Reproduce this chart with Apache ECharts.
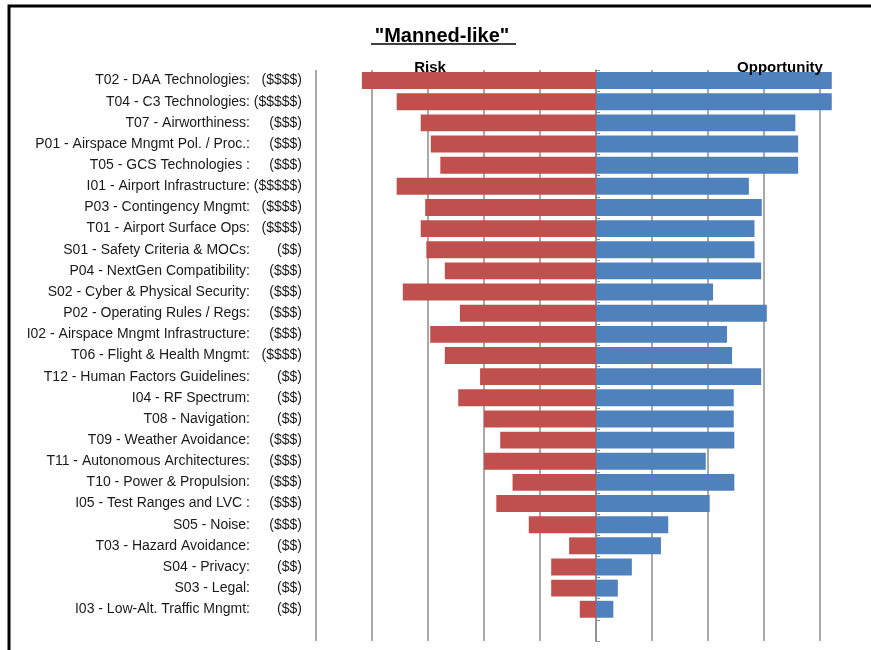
<!DOCTYPE html>
<html>
<head>
<meta charset="utf-8">
<script src="https://cdn.jsdelivr.net/npm/echarts@6/dist/echarts.min.js"></script>
<style>
  html, body { margin: 0; padding: 0; background: #fff; }
  #runChart { width: 871px; height: 650px; }
</style>
</head>
<body>
<div id="runChart"></div>
<script>
  let names = [
    "T02 - DAA Technologies:", "T04 - C3 Technologies:", "T07 - Airworthiness:",
    "P01 - Airspace Mngmt Pol. / Proc.:", "T05 - GCS Technologies :", "I01 - Airport Infrastructure:",
    "P03 - Contingency Mngmt:", "T01 - Airport Surface Ops:", "S01 - Safety Criteria & MOCs:",
    "P04 - NextGen Compatibility:", "S02 - Cyber & Physical Security:", "P02 - Operating Rules / Regs:",
    "I02 - Airspace Mngmt Infrastructure:", "T06 - Flight & Health Mngmt:", "T12 - Human Factors Guidelines:",
    "I04 - RF Spectrum:", "T08 - Navigation:", "T09 - Weather Avoidance:",
    "T11 - Autonomous Architectures:", "T10 - Power & Propulsion:", "I05 - Test Ranges and LVC :",
    "S05 - Noise:", "T03 - Hazard Avoidance:", "S04 - Privacy:", "S03 - Legal:",
    "I03 - Low-Alt. Traffic Mngmt:", ""
  ];
  let costs = [
    "($$$$)", "($$$$$)", "($$$)", "($$$)", "($$$)", "($$$$$)", "($$$$)", "($$$$)", "($$)",
    "($$$)", "($$$)", "($$$)", "($$$)", "($$$$)", "($$)", "($$)", "($$)", "($$$)",
    "($$$)", "($$$)", "($$$)", "($$$)", "($$)", "($$)", "($$)", "($$)", ""
  ];
  let risk = [
    -4.18, -3.56, -3.13, -2.95, -2.78, -3.56, -3.05, -3.13, -3.03,
    -2.7, -3.45, -2.43, -2.96, -2.7, -2.07, -2.46, -2.0, -1.71,
    -2.0, -1.49, -1.78, -1.2, -0.48, -0.8, -0.8, -0.29, null
  ];
  let opportunity = [
    4.21, 4.21, 3.56, 3.61, 3.61, 2.73, 2.96, 2.83, 2.83,
    2.95, 2.09, 3.05, 2.34, 2.43, 2.95, 2.46, 2.46, 2.47,
    1.96, 2.47, 2.03, 1.29, 1.16, 0.64, 0.39, 0.31, null
  ];

  let font = "Liberation Sans";

  let option = {
    animation: false,
    title: [
      {
        text: '"Manned-like"',
        left: 437,
        top: 21,
        textAlign: "center",
        textStyle: { fontFamily: font, fontSize: 20, fontWeight: "bold", color: "#000" }
      },
      {
        text: "Risk",
        left: 425,
        top: 55,
        textAlign: "center",
        textStyle: { fontFamily: font, fontSize: 15, fontWeight: "bold", color: "#000" }
      },
      {
        text: "Opportunity",
        left: 775,
        top: 55,
        textAlign: "center",
        textStyle: { fontFamily: font, fontSize: 15, fontWeight: "bold", color: "#000" }
      }
    ],
    graphic: [
      {
        type: "rect",
        shape: { x: 9, y: 6, width: 900, height: 700 },
        style: { fill: "none", stroke: "#000", lineWidth: 3 }
      },
      {
        type: "line",
        shape: { x1: 371, y1: 44, x2: 516, y2: 44 },
        style: { stroke: "#000", lineWidth: 1.5 }
      }
    ],
    grid: {
      left: 316,
      top: 70,
      width: 560,
      height: 571,
      outerBoundsMode: "none"
    },
    xAxis: {
      type: "value",
      min: -5,
      max: 5,
      interval: 1,
      axisLine: { show: false },
      axisTick: { show: false },
      axisLabel: { show: false },
      splitLine: { show: true, lineStyle: { color: "#8c8c8c", width: 1.5 } }
    },
    yAxis: [
      {
        type: "category",
        inverse: true,
        data: names,
        axisLine: { show: false, onZero: false },
        axisTick: { show: false },
        axisLabel: {
          margin: 14,
          formatter: function (value, i) {
            return "{n|" + value + "}{c|" + costs[i] + "}";
          },
          rich: {
            n: { fontFamily: font, fontSize: 14, color: "#1a1a1a" },
            c: { fontFamily: font, fontSize: 14, color: "#1a1a1a", width: 52, align: "right" }
          }
        }
      },
      {
        type: "category",
        inverse: true,
        data: names,
        axisLine: { show: true, onZero: true, lineStyle: { color: "#8c8c8c", width: 1.5 } },
        axisTick: { show: true, length: 4, lineStyle: { color: "#8c8c8c" } },
        axisLabel: { show: false }
      }
    ],
    series: [
      {
        name: "Risk",
        type: "bar",
        stack: "total",
        data: risk,
        barCategoryGap: "20%",
        itemStyle: { color: "#C0504D" }
      },
      {
        name: "Opportunity",
        type: "bar",
        stack: "total",
        data: opportunity,
        barCategoryGap: "20%",
        itemStyle: { color: "#4F81BD" }
      }
    ]
  };

  var myChart = echarts.init(document.getElementById("runChart"));
  myChart.setOption(option);
</script>
</body>
</html>
